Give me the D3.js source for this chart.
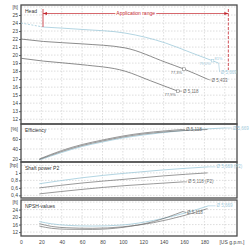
<!DOCTYPE html>
<html>
<head>
<meta charset="utf-8">
<script src="https://cdn.jsdelivr.net/npm/d3@7"></script>
<style>
body { margin: 0; background: #fff; }
text { font-family: "Liberation Sans", Arial, sans-serif; }
</style>
</head>
<body>
<div id="chart"></div>
<script>
// flow axis
const flowTicks = [0, 20, 40, 60, 80, 100, 120, 140, 160, 180]
const flowGrid = [20, 40, 60, 80, 100, 120, 140, 160, 180, 200]
const appRange = [21.6, 203.5]

// head curves [ft]
const headQ5669 = [0, 22, 60, 102, 142, 168, 194]
const headH5669 = [24.0, 23.5, 23.2, 22.75, 21.5, 20.25, 19.0]
const headQ5433 = [0, 22, 60, 102, 142, 160, 183]
const headH5433 = [22.0, 21.7, 21.4, 20.9, 19.1, 18.25, 17.0]
const headQ5118 = [0, 22, 60, 102, 127, 154]
const headH5118 = [19.6, 19.25, 18.8, 18.0, 16.8, 15.5]

// efficiency [%]
const effQ5669 = [18, 40, 60, 80, 100, 120, 140, 160, 180, 200]
const eff5669 = [18, 33, 45, 54, 62, 68, 73, 77, 80, 82]
const effQ5433 = [18, 40, 60, 80, 100, 120, 140, 160, 183]
const eff5433 = [19, 35, 47, 56, 64, 70, 74, 77, 79]
const effQ5118 = [18, 40, 60, 80, 100, 120, 140, 158]
const eff5118 = [20, 37, 49, 58, 66, 72, 76, 79]

// shaft power P2 [hp]
const powQ5669 = [18, 60, 102, 140, 184]
const pow5669 = [0.71, 0.87, 0.99, 1.08, 1.16]
const powQ5433 = [18, 60, 102, 140, 183]
const pow5433 = [0.60, 0.73, 0.83, 0.92, 1.00]
const powQ5118 = [18, 60, 102, 130, 159]
const pow5118 = [0.44, 0.56, 0.66, 0.71, 0.76]

// NPSH [ft]
const npshQ5669 = [18, 30, 45, 70, 100, 130, 160, 184]
const npsh5669 = [17.6, 16.4, 15.6, 15.2, 15.8, 18.2, 22.0, 26.0]
const npshQ5433 = [18, 30, 45, 70, 100, 130, 160, 183]
const npsh5433 = [16.5, 15.0, 14.3, 14.0, 14.8, 17.0, 20.8, 24.5]
const npshQ5118 = [18, 30, 45, 70, 100, 130, 159]
const npsh5118 = [15.2, 14.0, 13.5, 13.4, 14.5, 17.6, 23.0]

// efficiency points on head curves
const markQ = [188, 160, 154]
const markH = [19.3, 18.25, 15.5]

const blue = "#9fcadb"
const grey = "#6e6e6e"
const red = "#c4262e"
const frame = "#4a4a4a"

var svg = d3.select("#chart").append("svg")
	.attr("width", 250)
	.attr("height", 250)

var x = d3.scaleLinear().domain([0, 212]).range([21, 237])

var panels = [
	{name: "Head", unit: "[ft]", dom: [11.4, 26.25], rng: [124, 5], ticks: [12, 13, 14, 15, 16, 17, 18, 19, 20, 21, 22, 23, 24, 25], unitAt: 26},
	{name: "Efficiency", unit: "[%]", dom: [14, 90], rng: [162, 124], ticks: [20, 40, 60], unitAt: 80},
	{name: "Shaft power P2", unit: "[hp]", dom: [0.33, 1.29], rng: [198, 162], ticks: [0.4, 0.6, 0.8, 1.0], unitAt: 1.2},
	{name: "NPSH-values", unit: "[ft]", dom: [9.9, 29.1], rng: [236, 200], ticks: [12, 16, 20, 24], unitAt: 28}
]

var fmt = v => String(+v.toFixed(1)).replace(".", ",")

panels.forEach(p => {
	p.y = d3.scaleLinear().domain(p.dom).range(p.rng)
	var g = svg.append("g")

	// grid
	g.selectAll(".hg").data(p.ticks.concat([p.unitAt])).enter().append("line")
		.attr("x1", x(0)).attr("x2", x(212))
		.attr("y1", d => p.y(d)).attr("y2", d => p.y(d))
		.attr("stroke", "#c8c8c8").attr("stroke-width", 0.6)
		.attr("stroke-dasharray", "1.5,1.5")
	g.selectAll(".vg").data(flowGrid).enter().append("line")
		.attr("x1", d => x(d)).attr("x2", d => x(d))
		.attr("y1", p.rng[1]).attr("y2", p.rng[0])
		.attr("stroke", "#c8c8c8").attr("stroke-width", 0.6)
		.attr("stroke-dasharray", "1.5,1.5")

	// y axis
	var ax = d3.axisLeft(p.y).tickValues(p.ticks).tickSize(2).tickPadding(1).tickFormat(fmt)
	var a = g.append("g").attr("transform", "translate(" + x(0) + ",0)").call(ax)
	a.select(".domain").remove()
	a.selectAll("line").attr("stroke", "#666")
	a.selectAll("text").attr("font-size", 5).attr("fill", "#444")

	g.append("text")
		.attr("x", x(0) - 3).attr("y", p.y(p.unitAt))
		.attr("dy", "0.35em").attr("text-anchor", "end")
		.attr("font-size", 5).attr("fill", "#444")
		.text(p.unit)

	g.append("text")
		.attr("x", 25).attr("y", p.rng[1] + 8)
		.attr("font-size", 5).attr("fill", "#333")
		.text(p.name)

	p.g = g
})

// frames
panels.forEach(p => {
	svg.append("rect")
		.attr("x", x(0)).attr("y", p.rng[1])
		.attr("width", x(212) - x(0)).attr("height", p.rng[0] - p.rng[1])
		.attr("fill", "none").attr("stroke", frame).attr("stroke-width", 1.3)
})

// x axis
var xAx = svg.append("g").attr("transform", "translate(0,236)")
	.call(d3.axisBottom(x).tickValues(flowTicks).tickSize(0).tickPadding(4))
xAx.select(".domain").remove()
xAx.selectAll("text").attr("font-size", 5).attr("fill", "#444")
svg.append("text")
	.attr("x", 232).attr("y", 244)
	.attr("text-anchor", "middle").attr("font-size", 5).attr("fill", "#444")
	.text("[US g.p.m.]")

function drawCurve(p, qs, vs, color, width, dash) {
	var line = d3.line()
		.x((d, i) => x(qs[i]))
		.y(d => p.y(d))
		.curve(d3.curveMonotoneX)
	var path = svg.append("path")
		.attr("d", line(vs))
		.attr("fill", "none")
		.attr("stroke", color)
		.attr("stroke-width", width)
	if (dash) path.attr("stroke-dasharray", dash)
	return path
}

function endLabel(p, qs, vs, txt, color, dx, dy) {
	var ex = x(qs[qs.length - 1]), ey = p.y(vs[vs.length - 1])
	svg.append("line")
		.attr("x1", ex).attr("y1", ey).attr("x2", ex + dx - 1).attr("y2", ey + dy)
		.attr("stroke", color).attr("stroke-width", 0.6)
	svg.append("text")
		.attr("x", ex + dx).attr("y", ey + dy)
		.attr("dy", "0.35em").attr("font-size", 4.5).attr("fill", color)
		.text(txt)
}

var head = panels[0], eff = panels[1], pow = panels[2], npsh = panels[3]

// head: part of the biggest impeller outside the range is dashed
var split = 2
drawCurve(head, headQ5669.slice(0, split), headH5669.slice(0, split), blue, 0.8, "2,1.5")
drawCurve(head, headQ5669.slice(split - 1), headH5669.slice(split - 1), blue, 0.8)
drawCurve(head, headQ5433, headH5433, grey, 0.8)
drawCurve(head, headQ5118, headH5118, grey, 0.8)

endLabel(head, headQ5669, headH5669, "Ø 5,669", blue, 2, 9)
endLabel(head, headQ5433, headH5433, "Ø 5,433", grey, 4, 1)
endLabel(head, headQ5118, headH5118, "Ø 5,118", grey, 5, 0)

// efficiency markers on head curves
var markTxt = [["81%", "79,0%"], ["77,3%"], ["77,9%"]]
var markCol = [blue, grey, grey]
markQ.forEach((q, i) => {
	var mx = x(q), my = head.y(markH[i])
	svg.append("rect")
		.attr("x", mx - 1.3).attr("y", my - 1.3).attr("width", 2.6).attr("height", 2.6)
		.attr("fill", "#fff").attr("stroke", markCol[i]).attr("stroke-width", 0.5)
	svg.append("text")
		.attr("x", mx - 2).attr("y", my + 4.5)
		.attr("text-anchor", "end").attr("font-size", 4).attr("fill", markCol[i])
		.text(markTxt[i][markTxt[i].length - 1])
	if (markTxt[i].length > 1) {
		svg.append("text")
			.attr("x", mx + 2).attr("y", my - 1)
			.attr("font-size", 4).attr("fill", markCol[i])
			.text(markTxt[i][0])
	}
})

// application range
var ax0 = x(appRange[0]), ax1 = x(appRange[1]), ay = 13.5
svg.append("line").attr("x1", ax0).attr("x2", ax0).attr("y1", 9).attr("y2", 27)
	.attr("stroke", red).attr("stroke-width", 0.8)
svg.append("line").attr("x1", ax1).attr("x2", ax1).attr("y1", 9).attr("y2", 70)
	.attr("stroke", red).attr("stroke-width", 0.8).attr("stroke-dasharray", "3,1.5")
svg.append("line").attr("x1", ax0).attr("x2", ax1).attr("y1", ay).attr("y2", ay)
	.attr("stroke", red).attr("stroke-width", 0.7)
svg.append("path")
	.attr("d", "M" + ax0 + "," + ay + "l4,-1.6v3.2z M" + ax1 + "," + ay + "l-4,-1.6v3.2z")
	.attr("fill", red)
var appLabel = svg.append("text")
	.attr("x", (ax0 + ax1) / 2).attr("y", ay)
	.attr("dy", "0.35em").attr("text-anchor", "middle")
	.attr("font-size", 5).attr("fill", red)
	.text("Application range")
var bb = appLabel.node().getBBox()
svg.append("rect")
	.attr("x", bb.x - 1).attr("y", bb.y).attr("width", bb.width + 2).attr("height", bb.height)
	.attr("fill", "#fff")
appLabel.raise()

// efficiency
drawCurve(eff, effQ5669, eff5669, blue, 0.8)
drawCurve(eff, effQ5433, eff5433, grey, 0.7)
drawCurve(eff, effQ5118, eff5118, grey, 0.7)
endLabel(eff, effQ5118, eff5118, "Ø 5,118", grey, 4, 0)
endLabel(eff, effQ5669, eff5669, "Ø 5,669", blue, 8, 0)

// shaft power
drawCurve(pow, powQ5669, pow5669, blue, 0.8)
drawCurve(pow, powQ5433, pow5433, grey, 0.7)
drawCurve(pow, powQ5118, pow5118, grey, 0.7)
endLabel(pow, powQ5669, pow5669, "Ø 5,669 (P2)", blue, 8, 0)
endLabel(pow, powQ5118, pow5118, "Ø 5,118 (P2)", grey, 5, 0)

// NPSH
drawCurve(npsh, npshQ5669, npsh5669, blue, 0.8)
drawCurve(npsh, npshQ5433, npsh5433, grey, 0.7)
drawCurve(npsh, npshQ5118, npsh5118, grey, 0.7)
endLabel(npsh, npshQ5669, npsh5669, "Ø 5,669", blue, 8, 0)
endLabel(npsh, npshQ5118, npsh5118, "Ø 5,118", grey, 4, 1)
</script>
</body>
</html>
